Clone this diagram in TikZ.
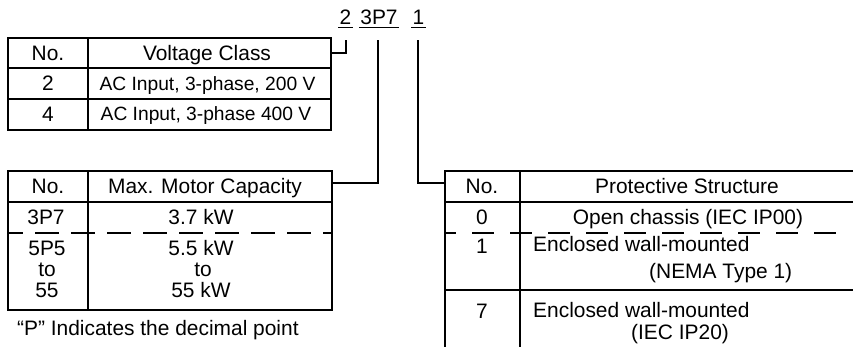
\documentclass[tikz,border=0pt]{standalone}
\usepackage{fontspec}
\setmainfont{Liberation Sans}
\begin{document}
\begin{tikzpicture}[x=1bp,y=-1bp,line width=2.4bp,
  every node/.style={inner sep=0pt, font=\fontsize{21}{22}\selectfont},
  bl/.style={anchor=base},
  bw/.style={anchor=base west},
  small/.style={font=\fontsize{19.3}{20}\selectfont},
  ul/.style={line width=1.3bp},
  dashtwo/.style={dash pattern=on 24bp off 12bp, dash phase=9bp},
  dashthree/.style={dash pattern=on 22bp off 16bp, dash phase=11bp}]
\useasboundingbox (0,0) rectangle (853,347);

% ---- code labels
\node[bl] (n2) at (345.5,24.5) {2};
\node[bl] (n3p7) at (379,24.5) {3P7};
\node[bl] (n1) at (418.5,24.5) {1};
\foreach \n in {n2,n3p7,n1}
  \draw[ul] ([yshift=-2.8bp]\n.base west) -- ([yshift=-2.8bp]\n.base east);

% ---- table 1 : voltage class
\draw (8,38) rectangle (331,130);
\draw (8,68) -- (331,68);
\draw (8,99) -- (331,99);
\draw (88,38) -- (88,130);
\node[bl] (h1a) at (48,60.5) {No.};
\node[bl] (h1b) at (207,60.5) {Voltage Class};
\node[bl] (r1a) at (48,90.5) {2};
\node[bl,small] (r1b) at (207.5,90.5) {AC Input, 3-phase, 200 V};
\node[bl] (r2a) at (48,121) {4};
\node[bl,small] (r2b) at (206,120) {AC Input, 3-phase 400 V};

% ---- table 2 : motor capacity
\draw (8,171) rectangle (332,310);
\draw (8,202) -- (332,202);
\draw[dashtwo] (8,233) -- (332,233);
\draw (88,171) -- (88,310);
\node[bl] (h2a) at (48,193) {No.};
\node[bl] (h2b) at (205,193) {Max. Motor Capacity};
\node[bl] (m1a) at (46,224.5) {3P7};
\node[bl] (m1b) at (201,224.5) {3.7 kW};
\node[bl] (m2a) at (47,255) {5P5};
\node[bl] (m2b) at (47,276) {to};
\node[bl] (m2c) at (47,297) {55};
\node[bl] (m3a) at (201,255) {5.5 kW};
\node[bl] (m3b) at (203,276) {to};
\node[bl] (m3c) at (201,297) {55 kW};
\node[bw] (cap) at (16,335) {“P” Indicates the decimal point};

% ---- table 3 : protective structure
\draw (853,171) -- (445,171) -- (445,347);
\draw (445,202) -- (853,202);
\draw[dashthree] (445,233) -- (838,233);
\draw (445,290) -- (853,290);
\draw (520,171) -- (520,347);
\node[bl] (h3a) at (482,193) {No.};
\node[bl] (h3b) at (687,193) {Protective Structure};
\node[bl] (p0a) at (482,224.5) {0};
\node[bl] (p0b) at (688,224.5) {Open chassis (IEC IP00)};
\node[bl] (p1a) at (482,253) {1};
\node[bw] (p1b) at (532,251) {Enclosed wall-mounted};
\node[bw] (p1c) at (648,278) {(NEMA Type 1)};
\node[bl] (p7a) at (482,318) {7};
\node[bw] (p7b) at (532,317) {Enclosed wall-mounted};
\node[bw] (p7c) at (630,339) {(IEC IP20)};

% ---- connectors
\coordinate (c2) at (346,40);
\coordinate (c3) at (378,40);
\coordinate (c1) at (418,40);
\coordinate (t1r) at (331,53);
\coordinate (t2r) at (332,183);
\coordinate (t3l) at (445,183);
\draw (c2) |- (t1r);
\draw (c3) |- (t2r);
\draw (c1) |- (t3l);
\end{tikzpicture}
\end{document}
